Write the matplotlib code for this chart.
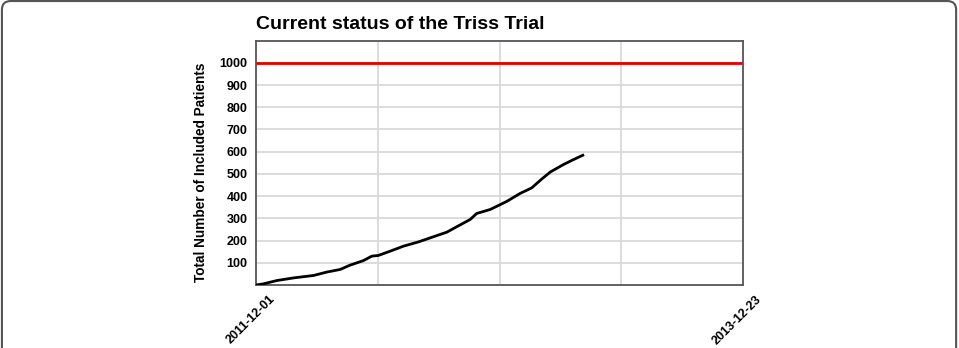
import numpy as np
import matplotlib
matplotlib.use("Agg")
import matplotlib.pyplot as plt
import matplotlib.dates as mdates
from matplotlib.patches import FancyBboxPatch

plt.rcParams['font.family'] = ['Liberation Sans', 'DejaVu Sans']

# Trial timeline and recruitment
start_date = np.datetime64('2011-12-01')
end_date = np.datetime64('2013-12-23')
days_in = [0, 11, 32, 58, 89, 109, 130, 145, 166, 179, 189, 207, 228, 251,
           269, 295, 310, 331, 341, 362, 388, 408, 426, 442, 455, 475, 491, 505]
patients = [0, 5, 20, 32, 43, 58, 70, 89, 110, 130, 133, 152, 175, 194,
            212, 238, 262, 295, 322, 340, 377, 412, 437, 478, 509, 542, 565, 584]
target = 1000
y_ticks = list(range(100, 1001, 100))

dates = start_date + np.array(days_in).astype('timedelta64[D]')

fig = plt.figure(figsize=(9.59, 3.48), dpi=100)

# rounded outer frame
frame = FancyBboxPatch((0.002, -0.2), 0.995, 1.197, boxstyle="round,pad=0,rounding_size=0.009",
                       transform=fig.transFigure, facecolor='none', edgecolor='#555555',
                       linewidth=1.5, mutation_aspect=959 / 348)
fig.patches.append(frame)

ax = fig.add_axes([0.267, 0.181, 0.508, 0.701])

ax.plot(dates.astype('datetime64[D]').astype(object), patients, color='black', lw=2, zorder=3)
ax.axhline(target, color='#e00000', lw=2, zorder=2)

x0 = mdates.date2num(start_date.astype(object))
x1 = mdates.date2num(end_date.astype(object))
ax.set_xlim(x0, x1)
ax.set_ylim(0, 1098)

# labels only at the ends, grid lines at quarters
span = x1 - x0
ax.set_xticks([x0 + span * k / 4 for k in (1, 2, 3)])
ax.set_xticklabels([])
for xv, txt in [(x0, str(start_date)), (x1, str(end_date))]:
    ax.annotate(txt, xy=(xv, 0), xycoords=('data', 'axes fraction'),
                xytext=(9, -6), textcoords='offset points', rotation=45,
                ha='right', va='top', rotation_mode='anchor',
                fontsize=9, fontweight='bold', annotation_clip=False)
ax.set_yticks(y_ticks)
ax.set_yticklabels([str(v) for v in y_ticks], fontsize=9, fontweight='bold')
ax.tick_params(axis='both', which='both', length=0)
ax.tick_params(axis='y', pad=6)

ax.grid(True, color='#d9d9d9', lw=1.3, zorder=0)
for s in ax.spines.values():
    s.set_color('#555555')
    s.set_linewidth(1.3)

ax.set_ylabel('Total Number of Included Patients', fontsize=9.8, fontweight='bold')
ax.yaxis.set_label_coords(-0.098, 0.46)
ax.set_title('Current status of the Triss Trial', loc='left', fontsize=14,
             fontweight='bold', pad=9)

fig.savefig('out.png', dpi=100)
